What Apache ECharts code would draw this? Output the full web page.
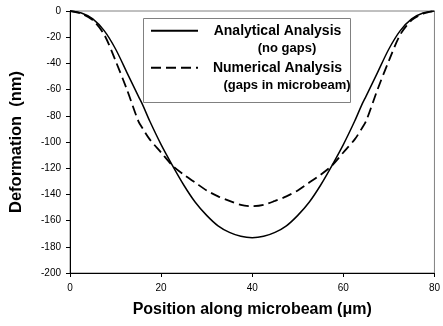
<!DOCTYPE html>
<html>
<head>
<meta charset="utf-8">
<script src="https://cdn.jsdelivr.net/npm/echarts@6/dist/echarts.min.js"></script>
<style>html,body{margin:0;padding:0;background:#fff}#c{width:443px;height:326px}</style>
</head>
<body>
<div id="c"></div>
<script>
var positions = [0,2.5,5,7.5,10,12.5,15,16,17.5,20,22.5,25,27.5,30,32.5,35,37.5,40,42.5,45,47.5,50,52.5,55,57.5,60,62.5,64,65,67.5,70,72.5,75,77.5,80];
var analytical = [0,-1.5,-6,-15,-29,-47,-65,-72,-84,-102,-118,-133,-146,-156,-164,-169,-172,-173,-172,-169,-164,-156,-146,-133,-118,-102,-84,-72,-65,-47,-29,-15,-6,-1.5,0];
var numerical = [0,-2,-7,-18,-38,-60,-84,-90,-98,-108,-118,-125,-131,-137,-141.5,-145,-148,-149,-148,-145,-141.5,-137,-131,-125,-118,-108,-98,-90,-84,-60,-38,-18,-7,-2,0];
var seriesNames = ['Analytical', 'Numerical'];
var legendLines = [['Analytical Analysis', '(no gaps)'], ['Numerical Analysis', '(gaps in microbeam)']];
var xTitle = 'Position along microbeam (\u03bcm)';
var yTitle = 'Deformation  (nm)';

var FONT = 'Liberation Sans, Arial, sans-serif';
function pairs(ys){ return positions.map(function(x,i){ return [x, ys[i]]; }); }

var chart = echarts.init(document.getElementById('c'), null, {renderer:'canvas'});
function legendCfg(idx, top){
  return {
    data: [seriesNames[idx]],
    left: 150, top: top, padding: 0,
    itemWidth: 47, itemHeight: 14,
    orient: 'vertical',
    selectedMode: false,
    itemStyle: {color: 'transparent', borderWidth: 0, opacity: 0},
    formatter: function(){
      var l = legendLines[idx];
      return '{e| }\n{a|' + l[0] + '}{s|}\n{b|' + l[1] + '}';
    },
    textStyle: {
      fontFamily: FONT, fontWeight: 'bold', fontSize: 13, color: '#000',
      rich: {
        e: {fontSize: 13, lineHeight: 17.5, fontFamily: FONT, fontWeight: 'bold'},
        a: {width: 149, align: 'center', lineHeight: 17.5, fontFamily: FONT, fontWeight: 'bold', fontSize: 14, color:'#000'},
        s: {width: 19, lineHeight: 17.5, fontSize: 13},
        b: {width: 168, align: 'center', lineHeight: 17.5, fontFamily: FONT, fontWeight: 'bold', fontSize: 13, color:'#000'}
      }
    }
  };
}
chart.setOption({
  animation: false,
  backgroundColor: '#fff',
  grid: {left: 64, right: 3, top: 11, bottom: 53, show: true, borderColor: '#808080', borderWidth: 1, backgroundColor: 'transparent'},
  graphic: [{
    type: 'rect', left: 143, top: 18, z: 0,
    shape: {width: 207, height: 84},
    style: {fill: '#fff', stroke: '#808080', lineWidth: 1}
  }],
  legend: [legendCfg(0, 33 - 26.25), legendCfg(1, 70 - 26.25)],
  xAxis: {
    type: 'value', min: 0, max: 80, interval: 20,
    name: xTitle, nameLocation: 'middle', nameGap: 29,
    nameTextStyle: {fontFamily: FONT, fontWeight: 'bold', fontSize: 16, color: '#000'},
    axisLine: {show: true, onZero: false, lineStyle: {color: '#000', width: 1}},
    axisTick: {show: true, inside: false, length: 4, lineStyle: {color: '#000'}},
    axisLabel: {fontFamily: FONT, fontSize: 10, color: '#000', margin: 10},
    splitLine: {show: false}
  },
  yAxis: {
    type: 'value', min: -200, max: 0, interval: 20,
    name: yTitle, nameLocation: 'middle', nameGap: 45, nameRotate: 90,
    nameTextStyle: {fontFamily: FONT, fontWeight: 'bold', fontSize: 16.5, color: '#000'},
    axisLine: {show: true, onZero: false, lineStyle: {color: '#000', width: 1}},
    axisTick: {show: true, inside: false, length: 4, lineStyle: {color: '#000'}},
    axisLabel: {fontFamily: FONT, fontSize: 10, color: '#000', margin: 9},
    splitLine: {show: false}
  },
  series: [
    {name: seriesNames[0], type: 'line', data: pairs(analytical), symbol: 'none', smooth: 0.3,
     lineStyle: {color: '#000', width: 1.5, type: 'solid'}, itemStyle: {color: '#000'}, z: 3},
    {name: seriesNames[1], type: 'line', data: pairs(numerical), symbol: 'none', smooth: 0.3,
     lineStyle: {color: '#000', width: 1.8, type: [10, 5]}, itemStyle: {color: '#000'}, z: 3}
  ]
});
</script>
</body>
</html>
